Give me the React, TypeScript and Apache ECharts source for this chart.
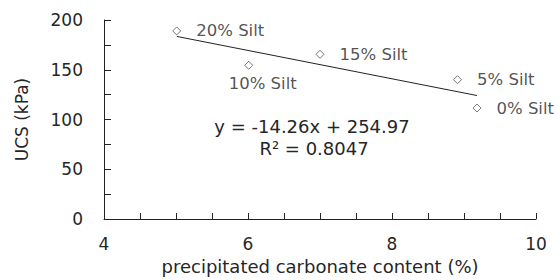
import React, { useEffect, useRef } from "react";
import * as echarts from "echarts";

const labels = ["20% Silt", "10% Silt", "15% Silt", "5% Silt", "0% Silt"];
const xValues = [5.01, 6.01, 7.0, 8.91, 9.18];
const yValues = [189, 154.5, 165.5, 140, 111.5];
const trendX = [5.01, 9.18];
const trendY = [183.5, 124.1];
const equationText = "y = -14.26x + 254.97";
const r2Text = "R² = 0.8047";
const xTicks = { min: 4, max: 10, step: 0.5, labelEvery: 2 };
const yTicks = { min: 0, max: 200, step: 25, labelEvery: 50 };

const FONT = "DejaVu Sans";
const TEXT = "#262626";
const AXIS = "#222";

export default function App() {
  const ref = useRef<HTMLDivElement>(null);
  useEffect(() => {
    document.body.style.margin = "0";
    if (!ref.current) return;
    const chart = echarts.init(ref.current, undefined, { renderer: "svg" });
    const pointData = xValues.map((x, i) => {
      const isBelow = labels[i] === "10% Silt";
      return {
        value: [x, yValues[i]],
        label: isBelow
          ? { show: true, position: "bottom", distance: 5, offset: [14, 0], formatter: labels[i] }
          : { show: true, position: "right", distance: 15, formatter: labels[i] },
      };
    });
    chart.setOption({
      animation: false,
      textStyle: { fontFamily: FONT },
      grid: { left: 104, right: 23, top: 20, bottom: 59 },
      xAxis: {
        type: "value",
        min: xTicks.min,
        max: xTicks.max,
        interval: xTicks.step,
        splitLine: { show: false },
        axisLine: { lineStyle: { color: AXIS, width: 1 } },
        axisTick: { inside: true, length: 6, lineStyle: { color: AXIS } },
        axisLabel: {
          color: TEXT,
          fontSize: 17,
          fontFamily: FONT,
          margin: 16,
          formatter: (v: number) => (Math.abs(v % xTicks.labelEvery) < 1e-9 ? String(v) : ""),
        },
        name: "precipitated carbonate content (%)",
        nameLocation: "middle",
        nameGap: 38,
        nameTextStyle: { color: TEXT, fontSize: 18, fontFamily: FONT },
      },
      yAxis: {
        type: "value",
        min: yTicks.min,
        max: yTicks.max,
        interval: yTicks.step,
        splitLine: { show: false },
        axisLine: { show: true, lineStyle: { color: AXIS, width: 1 } },
        axisTick: { show: true, inside: true, length: 7, lineStyle: { color: AXIS } },
        axisLabel: {
          color: TEXT,
          fontSize: 17,
          fontFamily: FONT,
          margin: 21,
          formatter: (v: number) => (v % yTicks.labelEvery === 0 ? String(v) : ""),
        },
        name: "UCS (kPa)",
        nameLocation: "middle",
        nameGap: 74,
        nameTextStyle: { color: TEXT, fontSize: 17, fontFamily: FONT },
      },
      series: [
        {
          type: "line",
          data: trendX.map((x, i) => [x, trendY[i]]),
          showSymbol: false,
          symbol: "none",
          lineStyle: { color: "#222", width: 1 },
          silent: true,
          z: 1,
        },
        {
          type: "scatter",
          data: pointData,
          symbol: "diamond",
          symbolSize: 8,
          itemStyle: { color: "#fff", borderColor: "#555", borderWidth: 1 },
          label: { color: TEXT, fontSize: 16.5, fontFamily: FONT },
          z: 3,
        },
      ],
      graphic: [
        {
          type: "text",
          x: 312,
          y: 126,
          style: { text: equationText, fill: TEXT, font: `18px "${FONT}"`, align: "center", verticalAlign: "middle" },
        },
        {
          type: "text",
          x: 314,
          y: 148,
          style: { text: r2Text, fill: TEXT, font: `18px "${FONT}"`, align: "center", verticalAlign: "middle" },
        },
      ],
    });
    return () => chart.dispose();
  }, []);
  return <div ref={ref} style={{ width: 559, height: 280 }} />;
}
